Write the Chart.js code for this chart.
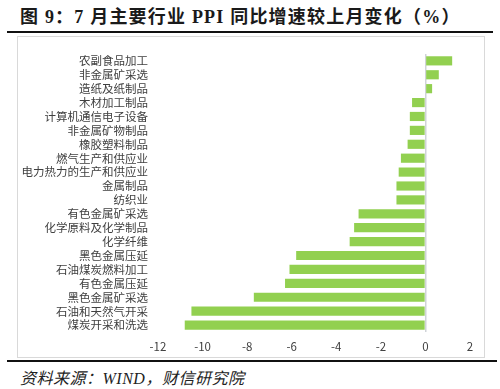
<!DOCTYPE html>
<html>
<head>
<meta charset="utf-8">
<script src="https://cdn.jsdelivr.net/npm/chart.js@4.4.0/dist/chart.umd.min.js"></script>
<style>
  html, body { margin: 0; padding: 0; background: #fff; }
  body { width: 500px; height: 389px; position: relative; overflow: hidden; font-family: "Noto Sans CJK SC", sans-serif; }
  .title { position: absolute; left: 20px; top: 2px; font-family: "Liberation Serif", "Noto Sans CJK SC", serif; font-size: 18px; font-weight: bold; color: #1a1a1a; white-space: nowrap; letter-spacing: 1.2px; }
  .rule { position: absolute; left: 7px; height: 2px; background: #111; }
  .box { position: absolute; left: 17px; top: 36px; width: 468px; height: 322px; border: 1px solid #d9d9d9; box-sizing: border-box; }
  .source { position: absolute; left: 20px; top: 365px; font-family: "Liberation Serif", "Noto Sans CJK SC", serif; font-size: 16px; font-style: italic; color: #222; white-space: nowrap; letter-spacing: 0.5px; }
</style>
</head>
<body>
<div class="title">图 9：7 月主要行业 PPI 同比增速较上月变化（%）</div>
<div class="rule" style="top:31px;width:486px;"></div>
<div class="box"><canvas id="chart" width="466" height="320"></canvas></div>
<div class="rule" style="top:360px;width:490px;"></div>
<div class="source">资料来源：WIND，财信研究院</div>
<script>
/* 7月主要行业 PPI 同比增速较上月变化 */
const industries = [
    '农副食品加工', '非金属矿采选', '造纸及纸制品', '木材加工制品', '计算机通信电子设备',
    '非金属矿物制品', '橡胶塑料制品', '燃气生产和供应业', '电力热力的生产和供应业', '金属制品',
    '纺织业', '有色金属矿采选', '化学原料及化学制品', '化学纤维', '黑色金属压延',
    '石油煤炭燃料加工', '有色金属压延', '黑色金属矿采选', '石油和天然气开采', '煤炭开采和洗选'
];
const changes = [
    1.2, 0.6, 0.3, -0.6, -0.7,
    -0.7, -0.8, -1.1, -1.2, -1.3,
    -1.3, -3.0, -3.2, -3.4, -5.8,
    -6.1, -6.3, -7.7, -10.5, -10.8
];
const xMin = -12;
const xMax = 2;
const xStep = 2;

const labelFont = { family: '"Noto Sans CJK SC", sans-serif', size: 11.5 };

new Chart(document.getElementById('chart'), {
    type: 'bar',
    data: {
        labels: industries,
        datasets: [{
            data: changes,
            backgroundColor: '#92d050',
            borderWidth: 0,
            categoryPercentage: 1,
            barPercentage: 0.66,
        }]
    },
    options: {
        indexAxis: 'y',
        responsive: false,
        animation: false,
        layout: { padding: { top: 6, right: 14, bottom: 0, left: 0 } },
        plugins: { legend: { display: false }, tooltip: { enabled: false } },
        scales: {
            x: {
                min: xMin,
                max: xMax,
                ticks: { stepSize: xStep, color: '#404040', font: labelFont, padding: 8 },
                grid: {
                    drawTicks: false,
                    color: (ctx) => ctx.tick && ctx.tick.value === 0 ? '#d0d3d8' : 'rgba(0,0,0,0)',
                    lineWidth: 1.5,
                },
                border: { display: false },
                afterFit: (scale) => { scale.height = 25; },
            },
            y: {
                ticks: { color: '#404040', font: labelFont, padding: 10, autoSkip: false },
                grid: { display: false, drawTicks: false },
                border: { display: false },
                afterFit: (scale) => { scale.width = 140; },
            }
        }
    }
});
</script>
</body>
</html>
